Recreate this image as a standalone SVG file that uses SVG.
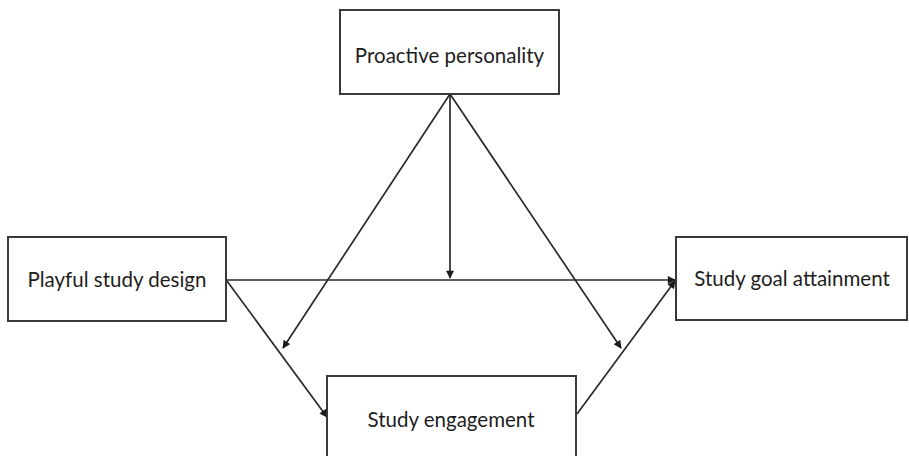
<svg xmlns="http://www.w3.org/2000/svg" width="909" height="456" viewBox="0 0 909 456">
<style>
.box{fill:#fff;stroke:#3a3a3a;stroke-width:2}
.lbl{font-family:Lato,"Noto Sans",sans-serif;font-size:20.5px;fill:#1e1e1e;text-anchor:middle}
.edge{stroke:#2a2a2a;stroke-width:1.7;fill:none;marker-end:url(#ah)}
</style>
<defs>
<marker id="ah" viewBox="0 0 10 10" refX="9" refY="5" markerWidth="9" markerHeight="8" markerUnits="userSpaceOnUse" orient="auto">
<path d="M0,0 L10,5 L0,10 z" fill="#1a1a1a"/>
</marker>
</defs>
<rect width="909" height="456" fill="#fff"/>
<g id="connectors">
<line class="edge" x1="227" y1="280" x2="675" y2="280"/>
<line class="edge" x1="450" y1="94" x2="450" y2="278"/>
<line class="edge" x1="450" y1="94" x2="283" y2="348"/>
<line class="edge" x1="450" y1="94" x2="621" y2="348"/>
<line class="edge" x1="227" y1="281" x2="327" y2="417"/>
<line class="edge" x1="577" y1="414" x2="675" y2="281"/>
</g>
<g id="proactive">
<rect class="box" x="340" y="10" width="219" height="84"/>
<text class="lbl" x="449.5" y="62.5">Proactive personality</text>
</g>
<g id="playful">
<rect class="box" x="8" y="237" width="218" height="84"/>
<text class="lbl" x="117" y="286.5">Playful study design</text>
</g>
<g id="goal">
<rect class="box" x="676" y="237" width="231" height="83"/>
<text class="lbl" x="792" y="286">Study goal attainment</text>
</g>
<g id="engagement">
<rect class="box" x="327" y="376" width="249" height="90"/>
<text class="lbl" x="451" y="427">Study engagement</text>
</g>
</svg>
